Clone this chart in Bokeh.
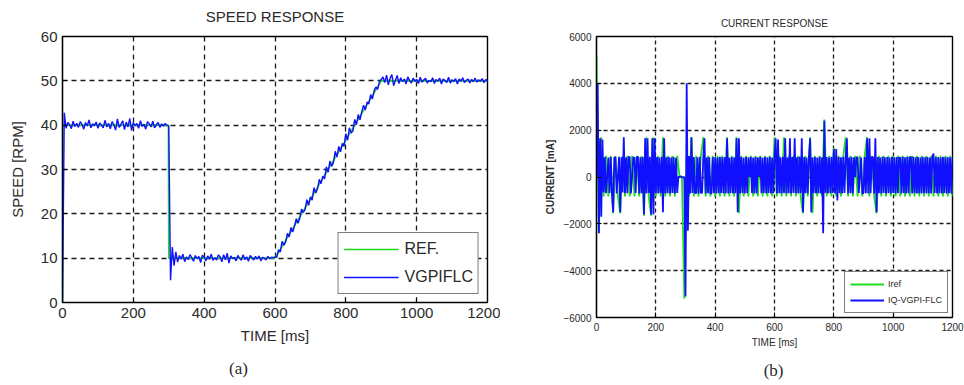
from bokeh.plotting import figure
from bokeh.layouts import row
from bokeh.models import Legend, LegendItem, LinearAxis, Range1d, FixedTicker
from bokeh.embed import file_html
from bokeh.resources import INLINE
import numpy as np

# ---------------- data: speed response ----------------
speed_ref_t = [0, 1, 299, 300, 600, 900, 1200]
speed_ref_v = [0, 40, 40, 10, 10, 50, 50]

speed_step_ms = 5
speed_seg1 = [0.0, 42.8, 39.3, 40.6, 40.1, 39.2, 40.9, 39.7, 40.4, 39.5,
              40.8, 40.2, 39.1, 40.6, 39.8, 41.2, 39.4, 40.3, 39.9, 40.7,
              39.3, 40.5, 40.0, 39.4, 41.1, 39.6, 40.4, 39.2, 40.8, 40.1,
              38.9, 41.4, 39.5, 40.2, 41.0, 39.0, 40.7, 39.6, 41.5, 38.8,
              40.6, 39.9, 40.4, 39.3, 41.0, 39.7, 40.2, 39.1, 40.8, 40.3,
              39.6, 40.9, 39.4, 40.1, 40.6, 39.5, 40.3, 39.8, 40.4, 39.9]
speed_seg2 = [39.8, 5.0, 12.5, 8.3, 11.4, 9.1, 10.6, 9.8, 10.9, 9.2,
              10.3, 9.7, 10.8, 10.1, 9.3, 10.6, 9.9, 10.4, 9.0, 10.7,
              10.2, 9.4, 10.5, 9.8, 10.9, 9.5, 10.1, 9.6, 10.7, 10.3,
              9.2, 10.8, 9.6, 11.1, 8.9, 10.5, 9.9, 10.2, 9.4, 10.6,
              10.0, 9.5, 10.8, 9.7, 10.3, 9.3, 10.6, 10.1, 9.6, 10.4,
              9.8, 10.5, 9.4, 10.2, 10.0, 9.6, 10.4, 9.9, 10.2, 10.1]
speed_seg3 = [10.3, 10.2, 11.9, 11.4, 13.8, 12.9, 13.6, 15.6, 14.8, 16.9,
              15.9, 17.2, 18.9, 17.9, 19.0, 21.1, 20.3, 21.0, 23.2, 21.9,
              23.8, 23.1, 25.9, 24.7, 25.6, 27.8, 26.8, 28.5, 27.9, 30.6,
              29.4, 31.9, 30.7, 31.6, 34.1, 32.8, 35.2, 34.0, 35.9, 35.2,
              38.1, 36.6, 39.4, 38.2, 38.7, 41.3, 40.1, 42.4, 41.2, 43.0,
              44.5, 43.4, 45.2, 44.8, 46.9, 45.9, 47.8, 48.6, 48.1, 49.9]
speed_seg4 = [50.3, 50.9, 49.6, 51.3, 49.1, 50.6, 51.4, 48.9, 50.2, 51.2,
              49.4, 50.7, 49.8, 50.4, 49.3, 50.9, 50.1, 49.5, 50.6, 49.9,
              50.3, 49.4, 50.8, 49.7, 50.2, 50.6, 49.5, 50.1, 49.8, 50.7,
              49.4, 50.3, 49.9, 50.6, 49.3, 50.4, 50.0, 49.6, 50.8, 49.5,
              50.2, 49.8, 50.5, 49.3, 50.4, 49.9, 50.7, 49.6, 50.1, 50.4,
              49.5, 50.3, 49.8, 50.6, 49.7, 50.2, 49.9, 50.5, 49.6, 50.3, 49.9]

# ---------------- data: current response ----------------
iq_step_ms = 4
iq_vals = [
    0, 4000, -2400, 1650, -1700, 1600, -650, 850, -690, 0, 830, -680, 850, -700, -1500, 840, 820, -700, 0, 860, -1500, 840, -660, 1700, -690,
    830, -690, 860, 850, -700, 0, 840, 820, -680, 850, 860, -700, 840, -690, 850, -1600, 1650, -700, 1650, -680, 860, -1600, 1650, -1600, 1650,
    -690, 850, -700, 830, -680, 860, -1500, 1650, -700, 840, -690, 850, -700, 830, -680, 850, -700, 820, -680, 0, 0, 30, 0, -20, 0,
    -5100, 4000, -2300, 900, -700, 1700, -680, 850, -690, -690, 840, -700, 860, -680, -680, 850, 1650, -700, 830, -690, 850, -700, -700, 840, -680,
    850, -700, 830, -690, 860, -680, 840, -700, 850, -690, 1650, -700, 830, -680, 850, -700, 840, -690, 1650, -1500, 1650, -700, 850, -680, 830,
    -700, 850, -690, 840, 0, 860, -680, 830, -700, 850, -700, 840, 0, 860, -690, 830, -680, 850, -700, 840, -680, 860, -700, 830, -690,
    850, 1650, -700, 1600, -690, 840, -700, 860, -680, 1650, -700, 830, -690, 1650, -700, 850, -680, 1650, -690, 840, -700, 860, -680, 1650, -1500,
    850, -690, 830, -700, 860, 1650, -1500, 840, -680, 850, -700, 830, -690, 860, -700, 840, -2400, 2400, -680, 850, -700, 830, -690, 860, -680,
    1200, -700, 1200, -1000, 850, -690, 840, -700, 860, -680, 860, 1650, -700, 830, -690, 850, -700, 840, 0, 830, 850, -680, 0, 830, -700,
    -690, 850, -690, 1650, -700, 1650, -680, 860, 840, -700, 1650, -1500, 850, -690, 830, -700, 860, -680, 840, -700, 850, -690, 830, -700, 860,
    -680, 840, -700, 850, -690, 830, 830, -700, 860, -680, 840, -700, 850, -690, 860, 830, -700, 860, -680, 840, -700, 850, -690, 830, -700,
    860, -680, 840, -700, 850, -690, 830, -700, 860, 1000, -680, 840, -700, 850, -690, 830, -700, 860, -680, 840, -700, 850, -690, 830, -700, 850,
]
iref_step_ms = 8
iref_vals = [
    5200, -2400, 1700, -830, 900, -830, 900, -1550, 900, -830, -1550, 900, -830,
    900, -830, 900, -830, 900, -830, 900, -1650, 1700, -830, -1650, 1700,
    -830, 900, -830, 1700, -830, 900, -830, 900, -830, 900, 0, 0, -5200,
    900, -830, 1700, -830, 900, -830, 900, 1700, -830, 900, -830, 900,
    -830, 900, -830, 900, -830, 1700, -830, 900, -830, 1700, -1550, 900, -830,
    900, -830, 900, -830, 900, -830, 900, -830, 900, -830, 900, -830,
    1700, -830, 900, -830, 1700, -830, 900, -830, 900, -830, 900, -830, -1550,
    900, -830, 1700, -1550, 900, -830, 900, -830, 2450, -830, 900, -830,
    1250, -830, 900, -830, 900, 1700, -830, 900, -830, 900, -830, 900, -830,
    900, 1700, -830, 900, -830, -1550, 900, -830, 900, -830, 900, -830,
    900, -830, 900, -830, 900, -830, 900, -830, 900, -830, 900, -830, 900,
    -830, 900, -830, 900, -830, 900, -830, 900, -830, 900, -830, 900, -830,
]

x_ticks = [0, 200, 400, 600, 800, 1000, 1200]
speed_ticks = [0, 10, 20, 30, 40, 50, 60]
current_ticks = [-6000, -4000, -2000, 0, 2000, 4000, 6000]

titles = ["SPEED RESPONSE", "CURRENT RESPONSE"]
captions = ["(a)", "(b)"]
caption_x = [497, 597]  # horizontal anchor of each caption, in ms

GREEN = "#1fdc1f"
BLUE = "#1010ff"
TXT = "#2a2a2a"
FONT = "Liberation Sans"


def style(p, tick_font, label_font, dash, standoff):
    p.outline_line_color = "black"
    p.outline_line_width = 1.4
    for ax in (p.xaxis, p.yaxis):
        ax.axis_line_color = "black"
        ax.axis_line_width = 1.2
        ax.major_tick_in = 5
        ax.major_tick_out = 0
        ax.major_tick_line_color = "black"
        ax.minor_tick_line_color = None
        ax.major_label_text_font = FONT
        ax.major_label_text_font_size = tick_font
        ax.major_label_text_color = TXT
        ax.axis_label_text_font = FONT
        ax.axis_label_text_font_size = label_font
        ax.axis_label_text_font_style = "normal"
        ax.axis_label_text_color = TXT
        ax.major_label_standoff = standoff
    for g in (p.xgrid, p.ygrid):
        g.grid_line_color = "black"
        g.grid_line_dash = dash
        g.grid_line_width = 1.3
        g.grid_line_alpha = 0.9


def add_title(p, text, size, standoff):
    ax = LinearAxis(ticker=FixedTicker(ticks=[]), axis_label=text,
                    axis_label_text_font=FONT, axis_label_text_font_size=size,
                    axis_label_text_font_style="normal", axis_label_text_color=TXT,
                    axis_label_standoff=standoff, major_label_standoff=0,
                    axis_line_color=None, major_tick_line_color=None,
                    minor_tick_line_color=None, major_tick_in=0, major_tick_out=0)
    p.add_layout(ax, "above")


def add_caption(p, text, xpos, standoff):
    ax = LinearAxis(ticker=FixedTicker(ticks=[xpos]), major_label_overrides={xpos: text},
                    major_label_text_font="Liberation Serif", major_label_text_font_size="17px",
                    major_label_text_color=TXT, major_label_standoff=standoff,
                    axis_line_color=None, major_tick_line_color=None,
                    minor_tick_line_color=None, major_tick_in=0, major_tick_out=0)
    p.add_layout(ax, "below")


# ---------------- left figure ----------------
p1 = figure(frame_width=425, frame_height=266, min_border_left=62, min_border_right=13,
            min_border_top=36, min_border_bottom=83, output_backend="svg", toolbar_location=None,
            x_range=Range1d(0, 1200), y_range=Range1d(0, 60), background_fill_color="white")
p1.xaxis.ticker = FixedTicker(ticks=x_ticks)
p1.yaxis.ticker = FixedTicker(ticks=speed_ticks)
p1.xaxis.axis_label = "TIME [ms]"
p1.yaxis.axis_label = "SPEED [RPM]"
style(p1, "15px", "15px", "5 4", 5)
p1.xaxis.axis_label_standoff = 6
p1.yaxis.axis_label_standoff = 12

speed_meas = speed_seg1 + speed_seg2 + speed_seg3 + speed_seg4
speed_t = np.arange(len(speed_meas)) * speed_step_ms
r_ref = p1.line(speed_ref_t, speed_ref_v, line_color=GREEN, line_width=1.6)
r_meas = p1.line(speed_t, speed_meas, line_color=BLUE, line_width=1.4)

leg1 = Legend(items=[LegendItem(label="REF.", renderers=[r_ref]),
                     LegendItem(label="VGPIFLC", renderers=[r_meas])],
              location="bottom_right", margin=8, padding=5, spacing=6,
              glyph_width=55, glyph_height=22, label_height=22, label_standoff=6,
              label_text_font=FONT, label_text_font_size="16px", label_text_color=TXT,
              border_line_color="black", border_line_width=1.5, background_fill_alpha=1.0)
p1.add_layout(leg1)
add_title(p1, titles[0], "15px", 12)
add_caption(p1, captions[0], caption_x[0], 12)

# ---------------- right figure ----------------
p2 = figure(frame_width=356, frame_height=281, min_border_left=96, min_border_right=12,
            min_border_top=36, min_border_bottom=68, output_backend="svg", toolbar_location=None,
            x_range=Range1d(0, 1200), y_range=Range1d(-6000, 6000), background_fill_color="white")
p2.xaxis.ticker = FixedTicker(ticks=x_ticks)
p2.yaxis.ticker = FixedTicker(ticks=current_ticks)
p2.xaxis.axis_label = "TIME [ms]"
p2.yaxis.axis_label = "CURRENT [mA]"
style(p2, "10px", "10px", "4 3", 5)
p2.yaxis.axis_label_text_font_style = "bold"
p2.xaxis.axis_label_standoff = 3
p2.yaxis.axis_label_standoff = 4

iref_t = np.arange(len(iref_vals)) * iref_step_ms
iq_t = np.arange(len(iq_vals)) * iq_step_ms
r_iref = p2.line(iref_t, iref_vals, line_color=GREEN, line_width=1.8)
r_iq = p2.line(iq_t, iq_vals, line_color=BLUE, line_width=1.8)

leg2 = Legend(items=[LegendItem(label="Iref", renderers=[r_iref]),
                     LegendItem(label="IQ-VGPI-FLC", renderers=[r_iq])],
              location="bottom_right", margin=4, padding=5, spacing=2,
              glyph_width=34, glyph_height=14, label_height=14, label_standoff=4,
              label_text_font=FONT, label_text_font_size="9px", label_text_color=TXT,
              border_line_color="black", border_line_width=1.5, background_fill_alpha=1.0)
p2.add_layout(leg2)
add_title(p2, titles[1], "10px", 8)
add_caption(p2, captions[1], caption_x[1], 10)

layout = row(p1, p2)
open("out.html", "w").write(file_html(layout, INLINE))
